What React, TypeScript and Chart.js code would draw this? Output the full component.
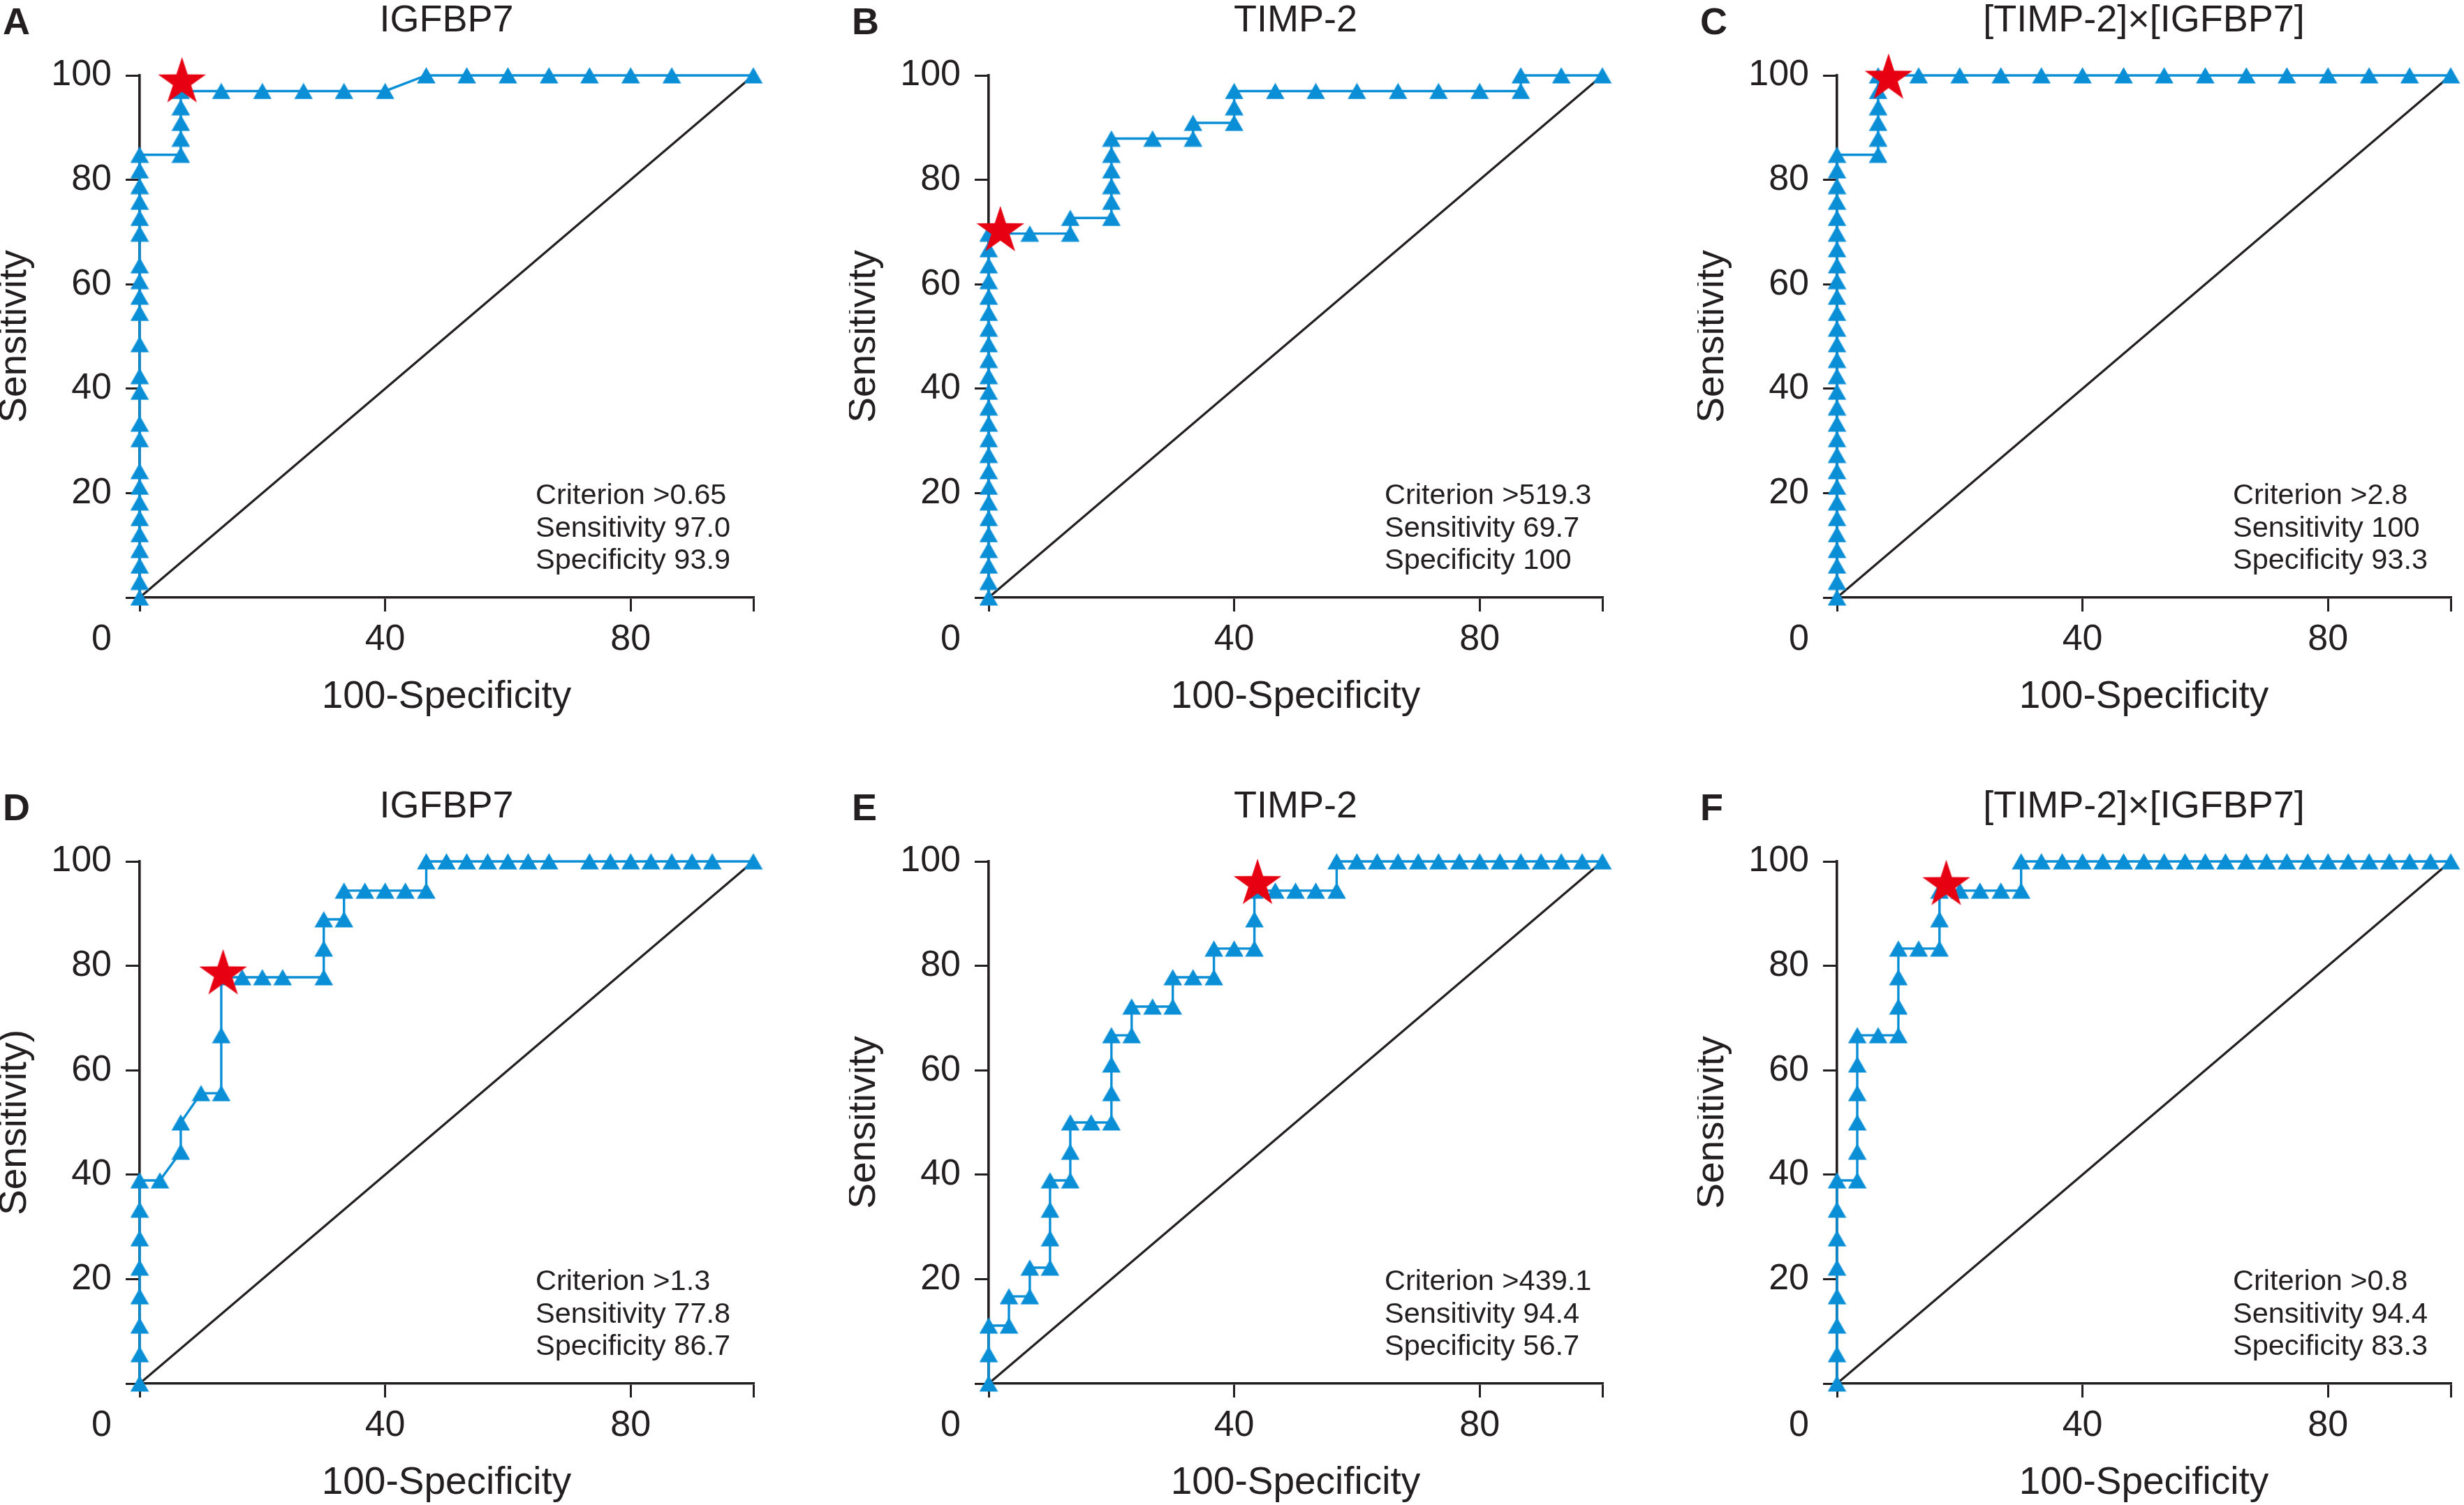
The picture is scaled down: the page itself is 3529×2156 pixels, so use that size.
import React, { useEffect, useRef } from 'react';
import { Chart, registerables } from 'chart.js';

Chart.register(...registerables);

// ---------------- data ----------------
const panelLetters = ['A', 'B', 'C', 'D', 'E', 'F'];
const panelTitles = ['IGFBP7', 'TIMP-2', '[TIMP-2]×[IGFBP7]', 'IGFBP7', 'TIMP-2', '[TIMP-2]×[IGFBP7]'];
const yAxisTitles = ['Sensitivity', 'Sensitivity', 'Sensitivity', 'Sensitivity)', 'Sensitivity', 'Sensitivity'];
const xAxisTitle = '100-Specificity';
const xTickValues = [0, 40, 80, 100];
const xTickLabels = ['', '40', '80', ''];
const yTickValues = [0, 20, 40, 60, 80, 100];
const yTickLabels = ['', '20', '40', '60', '80', '100'];
const originLabel = '0';

const criterionText = ['>0.65', '>519.3', '>2.8', '>1.3', '>439.1', '>0.8'];
const sensitivityText = ['97.0', '69.7', '100', '77.8', '94.4', '94.4'];
const specificityText = ['93.9', '100', '93.3', '86.7', '56.7', '83.3'];

// optimal cut-off markers (red stars), as drawn
const starFpr = [6.9, 1.9, 8.4, 13.6, 43.8, 17.8];
const starTpr = [98.7, 70.2, 99.4, 78.4, 95.7, 95.5];

// ROC curves: 100-Specificity (fpr) and Sensitivity (tpr)
const rocA_fpr = [0, 0, 0, 0, 0, 0, 0, 0, 0, 0, 0, 0, 0, 0, 0, 0, 0, 0, 0, 0, 0, 0, 0, 0,
  6.7, 6.7, 6.7, 6.7, 6.7, 13.3, 20.0, 26.7, 33.3, 40.0, 46.7, 53.3, 60.0, 66.7, 73.3, 80.0, 86.7, 100];
const rocA_tpr = [0, 3.0, 6.1, 9.1, 12.1, 15.2, 18.2, 21.2, 24.2, 30.3, 33.3, 39.4, 42.4, 48.5, 54.5, 57.6, 60.6, 63.6, 69.7, 72.7, 75.8, 78.8, 81.8, 84.8,
  84.8, 87.9, 90.9, 93.9, 97.0, 97.0, 97.0, 97.0, 97.0, 97.0, 100, 100, 100, 100, 100, 100, 100, 100];

const rocB_fpr = [0, 0, 0, 0, 0, 0, 0, 0, 0, 0, 0, 0, 0, 0, 0, 0, 0, 0, 0, 0, 0, 0, 0, 0,
  6.7, 13.3, 13.3, 20.0, 20.0, 20.0, 20.0, 20.0, 20.0, 26.7, 33.3, 33.3, 40.0, 40.0, 40.0,
  46.7, 53.3, 60.0, 66.7, 73.3, 80.0, 86.7, 86.7, 93.3, 100];
const rocB_tpr = [0, 3.0, 6.1, 9.1, 12.1, 15.2, 18.2, 21.2, 24.2, 27.3, 30.3, 33.3, 36.4, 39.4, 42.4, 45.5, 48.5, 51.5, 54.5, 57.6, 60.6, 63.6, 66.7, 69.7,
  69.7, 69.7, 72.7, 72.7, 75.8, 78.8, 81.8, 84.8, 87.9, 87.9, 87.9, 90.9, 90.9, 93.9, 97.0,
  97.0, 97.0, 97.0, 97.0, 97.0, 97.0, 97.0, 100, 100, 100];

const rocC_fpr = [0, 0, 0, 0, 0, 0, 0, 0, 0, 0, 0, 0, 0, 0, 0, 0, 0, 0, 0, 0, 0, 0, 0, 0, 0, 0, 0, 0, 0,
  6.7, 6.7, 6.7, 6.7, 6.7, 6.7, 13.3, 20.0, 26.7, 33.3, 40.0, 46.7, 53.3, 60.0, 66.7, 73.3, 80.0, 86.7, 93.3, 100];
const rocC_tpr = [0, 3.0, 6.1, 9.1, 12.1, 15.2, 18.2, 21.2, 24.2, 27.3, 30.3, 33.3, 36.4, 39.4, 42.4, 45.5, 48.5, 51.5, 54.5, 57.6, 60.6, 63.6, 66.7, 69.7, 72.7, 75.8, 78.8, 81.8, 84.8,
  84.8, 87.9, 90.9, 93.9, 97.0, 100, 100, 100, 100, 100, 100, 100, 100, 100, 100, 100, 100, 100, 100, 100];

const rocD_fpr = [0, 0, 0, 0, 0, 0, 0, 0, 3.3, 6.7, 6.7, 10.0, 13.3, 13.3, 13.3, 16.7, 20.0, 23.3, 30.0, 30.0, 30.0,
  33.3, 33.3, 36.7, 40.0, 43.3, 46.7, 46.7, 50.0, 53.3, 56.7, 60.0, 63.3, 66.7, 73.3, 76.7, 80.0, 83.3, 86.7, 90.0, 93.3, 100];
const rocD_tpr = [0, 5.6, 11.1, 16.7, 22.2, 27.8, 33.3, 38.9, 38.9, 44.4, 50.0, 55.6, 55.6, 66.7, 77.8, 77.8, 77.8, 77.8, 77.8, 83.3, 88.9,
  88.9, 94.4, 94.4, 94.4, 94.4, 94.4, 100, 100, 100, 100, 100, 100, 100, 100, 100, 100, 100, 100, 100, 100, 100];

const rocE_fpr = [0, 0, 0, 3.3, 3.3, 6.7, 6.7, 10.0, 10.0, 10.0, 10.0, 13.3, 13.3, 13.3, 16.7, 20.0, 20.0, 20.0, 20.0,
  23.3, 23.3, 26.7, 30.0, 30.0, 33.3, 36.7, 36.7, 40.0, 43.3, 43.3, 43.3, 46.7, 50.0, 53.3, 56.7, 56.7,
  60.0, 63.3, 66.7, 70.0, 73.3, 76.7, 80.0, 83.3, 86.7, 90.0, 93.3, 96.7, 100];
const rocE_tpr = [0, 5.6, 11.1, 11.1, 16.7, 16.7, 22.2, 22.2, 27.8, 33.3, 38.9, 38.9, 44.4, 50.0, 50.0, 50.0, 55.6, 61.1, 66.7,
  66.7, 72.2, 72.2, 72.2, 77.8, 77.8, 77.8, 83.3, 83.3, 83.3, 88.9, 94.4, 94.4, 94.4, 94.4, 94.4, 100,
  100, 100, 100, 100, 100, 100, 100, 100, 100, 100, 100, 100, 100];

const rocF_fpr = [0, 0, 0, 0, 0, 0, 0, 0, 3.3, 3.3, 3.3, 3.3, 3.3, 3.3, 6.7, 10.0, 10.0, 10.0, 10.0, 13.3, 16.7, 16.7, 16.7,
  20.0, 23.3, 26.7, 30.0, 30.0, 33.3, 36.7, 40.0, 43.3, 46.7, 50.0, 53.3, 56.7, 60.0, 63.3, 66.7, 70.0, 73.3, 76.7, 80.0, 83.3, 86.7, 90.0, 93.3, 96.7, 100];
const rocF_tpr = [0, 5.6, 11.1, 16.7, 22.2, 27.8, 33.3, 38.9, 38.9, 44.4, 50.0, 55.6, 61.1, 66.7, 66.7, 66.7, 72.2, 77.8, 83.3, 83.3, 83.3, 88.9, 94.4,
  94.4, 94.4, 94.4, 94.4, 100, 100, 100, 100, 100, 100, 100, 100, 100, 100, 100, 100, 100, 100, 100, 100, 100, 100, 100, 100, 100, 100];

const rocFpr = [rocA_fpr, rocB_fpr, rocC_fpr, rocD_fpr, rocE_fpr, rocF_fpr];
const rocTpr = [rocA_tpr, rocB_tpr, rocC_tpr, rocD_tpr, rocE_tpr, rocF_tpr];
const chanceLine = [0, 100];

// ---------------- styling ----------------
const FONT = "'Liberation Sans', Arial, Helvetica, sans-serif";
const DARK = '#231f20';
const BLUE = '#0a8fd7';
const RED = '#e60012';

const CANVAS_W = 1110;
const CANVAS_H = 1030;
const colLeft = [0, 1216, 2431];
const rowTop = [0, 1126];

function makeTriangle(): HTMLCanvasElement {
  const c = document.createElement('canvas');
  c.width = 27;
  c.height = 24;
  const g = c.getContext('2d')!;
  g.fillStyle = BLUE;
  g.beginPath();
  g.moveTo(13.5, 0.2);
  g.lineTo(26.8, 23.6);
  g.lineTo(0.2, 23.6);
  g.closePath();
  g.fill();
  return c;
}

function makeStar(): HTMLCanvasElement {
  const c = document.createElement('canvas');
  c.width = 80;
  c.height = 80;
  const g = c.getContext('2d')!;
  const R = 36;
  const r = R * 0.382;
  g.fillStyle = RED;
  g.beginPath();
  for (let i = 0; i < 10; i++) {
    const rad = (i % 2 === 0 ? R : r);
    const a = -Math.PI / 2 + (i * Math.PI) / 5;
    const px = 40 + rad * Math.cos(a);
    const py = 40 + rad * Math.sin(a);
    if (i === 0) g.moveTo(px, py);
    else g.lineTo(px, py);
  }
  g.closePath();
  g.fill();
  return c;
}

const panelTextPlugin = {
  id: 'panelText',
  afterDraw(chart: any, _args: any, opts: any) {
    const { ctx, chartArea } = chart;
    ctx.save();
    ctx.fillStyle = DARK;
    // panel letter
    ctx.font = `bold 54px ${FONT}`;
    ctx.textAlign = 'left';
    ctx.textBaseline = 'alphabetic';
    ctx.fillText(opts.letter, 4, 49);
    // shared origin label
    ctx.font = `52px ${FONT}`;
    ctx.textAlign = 'right';
    ctx.textBaseline = 'middle';
    ctx.fillText(originLabel, chartArea.left - 40, chartArea.bottom + 60.5);
    // criterion annotation
    ctx.font = `41.5px ${FONT}`;
    ctx.textAlign = 'left';
    (opts.lines as string[]).forEach((line, i) => {
      ctx.fillText(line, chartArea.left + 567, chartArea.bottom - 145.5 + i * 46.7);
    });
    ctx.restore();
  },
};

function RocPanel({ index }: { index: number }) {
  const ref = useRef<HTMLCanvasElement | null>(null);

  useEffect(() => {
    if (!ref.current) return;
    const tri = makeTriangle();
    const star = makeStar();
    const fpr = rocFpr[index];
    const tpr = rocTpr[index];

    const chart = new Chart(ref.current, {
      type: 'scatter',
      data: {
        datasets: [
          {
            label: 'cut-off',
            data: [{ x: starFpr[index], y: starTpr[index] }],
            pointStyle: star as any,
            pointRadius: 30,
            showLine: false,
            clip: false as any,
            order: 0,
          },
          {
            label: 'ROC',
            data: fpr.map((x, k) => ({ x, y: tpr[k] })),
            showLine: true,
            borderColor: BLUE,
            backgroundColor: BLUE,
            borderWidth: 3.4,
            pointStyle: tri as any,
            pointRadius: 12,
            tension: 0,
            clip: false as any,
            order: 1,
          },
          {
            label: 'chance',
            data: chanceLine.map((v) => ({ x: v, y: v })),
            showLine: true,
            borderColor: DARK,
            borderWidth: 3.2,
            pointRadius: 0,
            clip: false as any,
            order: 2,
          },
        ],
      },
      options: {
        responsive: false,
        animation: false,
        devicePixelRatio: 1,
        layout: { padding: { left: 0, right: 25, top: 0, bottom: 0 } },
        events: [],
        plugins: {
          legend: { display: false },
          tooltip: { enabled: false },
          title: {
            display: true,
            text: panelTitles[index],
            fullSize: false,
            color: DARK,
            font: { family: FONT, size: 54, weight: 'normal', lineHeight: 1 },
            padding: { top: 3, bottom: 51 },
          },
          panelText: {
            letter: panelLetters[index],
            lines: [
              `Criterion ${criterionText[index]}`,
              `Sensitivity ${sensitivityText[index]}`,
              `Specificity ${specificityText[index]}`,
            ],
          },
        } as any,
        scales: {
          x: {
            type: 'linear',
            position: 'bottom',
            min: 0,
            max: 100,
            afterBuildTicks: (s: any) => {
              s.ticks = xTickValues.map((v) => ({ value: v }));
            },
            afterFit: (s: any) => {
              s.height = 174;
            },
            ticks: {
              autoSkip: false,
              maxRotation: 0,
              minRotation: 0,
              padding: 9,
              color: DARK,
              font: { family: FONT, size: 52 },
              callback: (v: any) => {
                const k = xTickValues.indexOf(Number(v));
                return k >= 0 ? xTickLabels[k] : '';
              },
            },
            grid: { drawOnChartArea: false, drawTicks: true, tickLength: 20, color: DARK, lineWidth: 3 },
            border: { display: true, color: DARK, width: 3.6 },
            title: {
              display: true,
              text: xAxisTitle,
              color: DARK,
              font: { family: FONT, size: 55, lineHeight: 1 },
              padding: { top: 0, bottom: 4 },
            },
          },
          y: {
            type: 'linear',
            position: 'left',
            min: 0,
            max: 100,
            afterBuildTicks: (s: any) => {
              s.ticks = yTickValues.map((v) => ({ value: v }));
            },
            afterFit: (s: any) => {
              s.width = 200;
            },
            ticks: {
              autoSkip: false,
              padding: 20,
              color: DARK,
              font: { family: FONT, size: 52 },
              callback: (v: any) => {
                const k = yTickValues.indexOf(Number(v));
                return k >= 0 ? yTickLabels[k] : '';
              },
            },
            grid: { drawOnChartArea: false, drawTicks: true, tickLength: 20, color: DARK, lineWidth: 3 },
            border: { display: true, color: DARK, width: 3.6 },
            title: {
              display: true,
              text: yAxisTitles[index],
              color: DARK,
              font: { family: FONT, size: 55, lineHeight: 0.8 },
              padding: { top: 0, bottom: 0 },
            },
          },
        },
      },
      plugins: [panelTextPlugin as any],
    });

    return () => chart.destroy();
  }, [index]);

  const left = colLeft[index % 3];
  const top = rowTop[Math.floor(index / 3)];
  return (
    <canvas
      ref={ref}
      width={CANVAS_W}
      height={CANVAS_H}
      style={{ position: 'absolute', left, top, width: CANVAS_W, height: CANVAS_H }}
    />
  );
}

export default function App() {
  useEffect(() => {
    document.body.style.margin = '0';
    document.body.style.background = '#ffffff';
  }, []);
  return (
    <div
      style={{
        position: 'relative',
        width: 3529,
        height: 2156,
        overflow: 'hidden',
        background: '#ffffff',
      }}
    >
      {panelLetters.map((_, i) => (
        <RocPanel key={i} index={i} />
      ))}
    </div>
  );
}
